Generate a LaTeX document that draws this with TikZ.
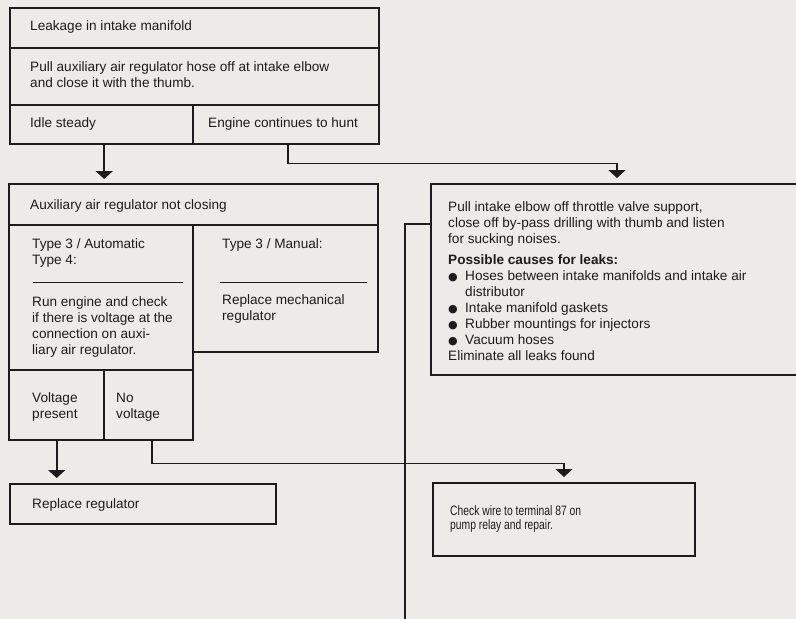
\documentclass[tikz,border=0pt]{standalone}
\usepackage{fontspec}
\setmainfont{Liberation Sans}
\newfontfamily\condfont[FakeStretch=0.76]{Liberation Sans}
\newfontfamily\symfont{DejaVu Sans}
\usetikzlibrary{arrows.meta,calc}
\definecolor{paper}{RGB}{236,235,232}
\definecolor{ink}{RGB}{28,28,28}
\newcommand{\bul}{\makebox[17pt][l]{\symfont\fontsize{11}{11}\selectfont ●}}
\begin{document}
\begin{tikzpicture}[x=1pt,y=-1pt,
  box/.style={draw=ink, line width=2pt, rectangle, inner sep=0pt, anchor=north west},
  cell/.style={rectangle, inner sep=0pt, anchor=north west},
  divider/.style={draw=ink, line width=1.2pt},
  rulel/.style={draw=ink, line width=1pt},
  conn/.style={draw=ink, line width=1.8pt},
  arr/.style={conn, -{Triangle[width=17pt,length=8pt]}, shorten >=5pt},
  txt/.style={anchor=base west, inner sep=0pt, text=ink, font=\fontsize{13.6}{16}\selectfont, align=left},
  ctxt/.style={anchor=base west, inner sep=0pt, text=ink, font=\condfont\fontsize{13.6}{14}\selectfont, align=left}]
\fill[paper] (0,0) rectangle (796,619);
\useasboundingbox (0,0) rectangle (796,619);

% ---- top box
\node[box, minimum width=369pt, minimum height=136pt] (leak) at (9,7) {};
\draw[divider] (9,48) -- (378,48);
\draw[divider] (9,105) -- (378,105);
\draw[divider] (193,105) -- (193,143);
\node[cell, minimum width=184pt, minimum height=38pt] (idle) at (9,105) {};
\node[cell, minimum width=185pt, minimum height=38pt] (engine) at (193,105) {};
\node[txt] (t1) at (30,30.5) {Leakage in intake manifold};
\node[txt] (t2) at (30,87) {Pull auxiliary air regulator hose off at intake elbow\\and close it with the thumb.};
\node[txt] (t3) at (30,127.5) {Idle steady};
\node[txt] (t4) at (208,127.5) {Engine continues to hunt};

% ---- auxiliary air regulator box
\node[cell, minimum width=369pt, minimum height=41pt] (auxt) at (9,184) {};
\node[cell, minimum width=95pt, minimum height=70pt] (vpres) at (9,370) {};
\node[cell, minimum width=89pt, minimum height=70pt] (novolt) at (104,370) {};
\draw[ink, line width=2pt] (9,184) -- (378,184) -- (378,352) -- (193,352) -- (193,440) -- (9,440) -- cycle;
\draw[divider] (9,225) -- (378,225);
\draw[divider] (193,225) -- (193,352);
\draw[divider] (9,370) -- (193,370);
\draw[divider] (104,370) -- (104,440);
\draw[rulel] (33,282) -- (183,282);
\draw[rulel] (220,282) -- (367,282);
\node[txt] (a1) at (30,209.5) {Auxiliary air regulator not closing};
\node[txt] (a2) at (32,264.5) {Type 3 / Automatic\\Type 4:};
\node[txt] (a3) at (32,354.5) {Run engine and check\\if there is voltage at the\\connection on auxi-\\liary air regulator.};
\node[txt] (a4) at (222,248.5) {Type 3 / Manual:};
\node[txt] (a5) at (222,320.5) {Replace mechanical\\regulator};
\node[txt] (a6) at (32,418.5) {Voltage\\present};
\node[txt] (a7) at (116,418.5) {No\\voltage};

% ---- right box (leak check)
\node[box, minimum width=372pt, minimum height=191pt] (leaks) at (430,183) {};
\node[txt] (r1) at (448,243.5) {Pull intake elbow off throttle valve support,\\close off by-pass drilling with thumb and listen\\for sucking noises.};
\node[txt] (r2) at (448,360.5) {\textbf{Possible causes for leaks:}\\
\bul Hoses between intake manifolds and intake air\\
\hspace*{17pt}distributor\\
\bul Intake manifold gaskets\\
\bul Rubber mountings for injectors\\
\bul Vacuum hoses\\
Eliminate all leaks found};

% ---- bottom boxes
\node[box, minimum width=266pt, minimum height=40pt] (repl) at (9,483) {};
\node[txt] (b1) at (32,508.5) {Replace regulator};
\node[box, minimum width=262pt, minimum height=73pt] (chk) at (432,482) {};
\node[ctxt] (b2) at (450,529.5) {Check wire to terminal 87 on\\pump relay and repair.};

% ---- connectors
\draw[arr] ([xshift=3pt]idle.south) -- ([xshift=3pt]idle.south |- auxt.north);
\draw[arr] ([xshift=2pt]engine.south) -- ++(0,20) -| (leaks.north);
\draw[arr] (vpres.south) -- (vpres.south |- repl.north);
\draw[arr] ([xshift=3pt]novolt.south) -- ++(0,23) -| (chk.north);
\coordinate (off) at (405,630);
\draw[conn] ([yshift=-41pt]leaks.north west) -| (off);
\end{tikzpicture}
\end{document}
